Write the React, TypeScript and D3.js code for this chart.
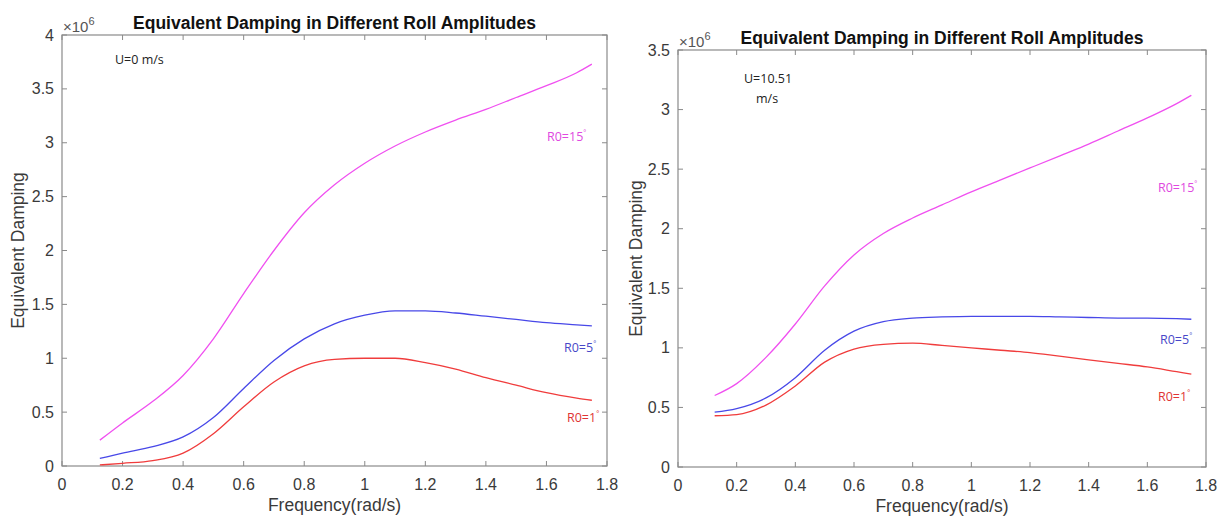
import React from "react";
import * as d3 from "d3";

const freqL = [0.125, 0.2, 0.3, 0.4, 0.5, 0.6, 0.7, 0.8, 0.9, 1.0, 1.1, 1.2, 1.3, 1.4, 1.5, 1.6, 1.7, 1.75];
const leftR15 = [0.24, 0.4, 0.6, 0.84, 1.18, 1.6, 2.0, 2.35, 2.61, 2.81, 2.97, 3.1, 3.21, 3.31, 3.42, 3.53, 3.65, 3.73];
const leftR5 = [0.07, 0.12, 0.18, 0.27, 0.45, 0.72, 0.98, 1.18, 1.32, 1.4, 1.44, 1.44, 1.42, 1.39, 1.36, 1.33, 1.31, 1.3];
const leftR1 = [0.01, 0.025, 0.05, 0.12, 0.3, 0.55, 0.78, 0.93, 0.99, 1.0, 1.0, 0.96, 0.9, 0.82, 0.75, 0.68, 0.63, 0.61];

const freqR = [0.125, 0.2, 0.3, 0.4, 0.5, 0.6, 0.7, 0.8, 0.9, 1.0, 1.1, 1.2, 1.3, 1.4, 1.5, 1.6, 1.7, 1.75];
const rightR15 = [0.6, 0.7, 0.92, 1.2, 1.52, 1.78, 1.96, 2.09, 2.2, 2.31, 2.41, 2.51, 2.61, 2.71, 2.82, 2.93, 3.05, 3.12];
const rightR5 = [0.46, 0.49, 0.58, 0.75, 0.98, 1.14, 1.22, 1.25, 1.26, 1.265, 1.265, 1.265, 1.26, 1.255, 1.25, 1.25, 1.245, 1.24];
const rightR1 = [0.43, 0.44, 0.52, 0.68, 0.88, 0.99, 1.03, 1.04, 1.02, 1.0, 0.98, 0.96, 0.93, 0.9, 0.87, 0.84, 0.8, 0.78];

const xTicks = [0, 0.2, 0.4, 0.6, 0.8, 1, 1.2, 1.4, 1.6, 1.8];
const yTicksL = [0, 0.5, 1, 1.5, 2, 2.5, 3, 3.5, 4];
const yTicksR = [0, 0.5, 1, 1.5, 2, 2.5, 3, 3.5];

const TITLE = "Equivalent Damping in Different Roll Amplitudes";
const XLABEL = "Frequency(rad/s)";
const YLABEL = "Equivalent Damping";

const C15 = "#f050f0";
const C5 = "#4848e8";
const C1 = "#f03c3c";
const AX = "#8a8a8a";
const TXT = "#3a3a3a";

type PanelProps = {
  x0: number; x1: number; y0: number; y1: number;
  yMax: number; yTicks: number[];
  freq: number[]; s15: number[]; s5: number[]; s1: number[];
  note: string[]; noteX: number[]; noteY: number;
  lab15: [number, number]; lab5: [number, number]; lab1: [number, number];
  ylabX: number;
};

function Panel(p: PanelProps) {
  const x = d3.scaleLinear().domain([0, 1.8]).range([p.x0, p.x1]);
  const y = d3.scaleLinear().domain([0, p.yMax]).range([p.y1, p.y0]);
  const line = d3.line<number>()
    .x((_, i) => x(p.freq[i]))
    .y((d) => y(d))
    .curve(d3.curveMonotoneX);
  const font = "'Liberation Sans', Arial, sans-serif";
  const noteFont = "'Open Sans', 'Noto Sans', sans-serif";
  const lab = (txt: string, pos: [number, number], color: string) => (
    <text x={pos[0]} y={pos[1]} fill={color} fontFamily={noteFont} fontSize={12.5}>
      {txt}
      <tspan fontSize={7} dy={-6}>°</tspan>
    </text>
  );
  const cx = (p.x0 + p.x1) / 2;
  const cy = (p.y0 + p.y1) / 2;
  return (
    <g>
      <rect x={p.x0} y={p.y0} width={p.x1 - p.x0} height={p.y1 - p.y0} fill="#fff" stroke={AX} strokeWidth={1.2} />
      {xTicks.map((t) => (
        <g key={"xt" + t}>
          <line x1={x(t)} x2={x(t)} y1={p.y1} y2={p.y1 - 5} stroke={AX} />
          <line x1={x(t)} x2={x(t)} y1={p.y0} y2={p.y0 + 5} stroke={AX} />
          <text x={x(t)} y={p.y1 + 24} textAnchor="middle" fill={TXT} fontFamily={font} fontSize={16}>{String(t)}</text>
        </g>
      ))}
      {p.yTicks.map((t) => (
        <g key={"yt" + t}>
          <line x1={p.x0} x2={p.x0 + 5} y1={y(t)} y2={y(t)} stroke={AX} />
          <line x1={p.x1} x2={p.x1 - 5} y1={y(t)} y2={y(t)} stroke={AX} />
          <text x={p.x0 - 8} y={y(t) + 5.5} textAnchor="end" fill={TXT} fontFamily={font} fontSize={16}>{String(t)}</text>
        </g>
      ))}
      <text x={p.x0 + 1} y={p.y0 - 3} fill="#555" fontFamily={font} fontSize={15}>
        ×10<tspan fontSize={11} dy={-7}>6</tspan>
      </text>
      <text x={cx} y={p.y0 - 6} textAnchor="middle" fill="#111" fontFamily={font} fontWeight="bold" fontSize={17.5}>{TITLE}</text>
      <text x={cx} y={p.y1 + 45} textAnchor="middle" fill={TXT} fontFamily={font} fontSize={17.5}>{XLABEL}</text>
      <text transform={`translate(${p.ylabX},${cy}) rotate(-90)`} textAnchor="middle" fill={TXT} fontFamily={font} fontSize={17.5}>{YLABEL}</text>
      <path d={line(p.s15) || ""} fill="none" stroke={C15} strokeWidth={1.3} />
      <path d={line(p.s5) || ""} fill="none" stroke={C5} strokeWidth={1.3} />
      <path d={line(p.s1) || ""} fill="none" stroke={C1} strokeWidth={1.3} />
      {p.note.map((n, i) => (
        <text key={n} x={p.noteX[i]} y={p.noteY + i * 20} fill="#222" fontFamily={noteFont} fontSize={12.5}>{n}</text>
      ))}
      {lab("R0=15", p.lab15, "#e048e0")}
      {lab("R0=5", p.lab5, "#4848c8")}
      {lab("R0=1", p.lab1, "#e03434")}
    </g>
  );
}

export default function App() {
  return (
    <svg width={1223} height={519} style={{ position: "absolute", left: 0, top: 0, background: "#fff" }}>
      <Panel x0={62} x1={607} y0={35} y1={466} yMax={4} yTicks={yTicksL}
        freq={freqL} s15={leftR15} s5={leftR5} s1={leftR1}
        note={["U=0 m/s"]} noteX={[115]} noteY={64}
        lab15={[547, 141]} lab5={[564, 352]} lab1={[567, 422]} ylabX={24} />
      <Panel x0={678} x1={1206} y0={50} y1={467} yMax={3.5} yTicks={yTicksR}
        freq={freqR} s15={rightR15} s5={rightR5} s1={rightR1}
        note={["U=10.51", "m/s"]} noteX={[744, 756]} noteY={83}
        lab15={[1158, 192]} lab5={[1160, 344]} lab1={[1158, 401]} ylabX={642} />
    </svg>
  );
}
